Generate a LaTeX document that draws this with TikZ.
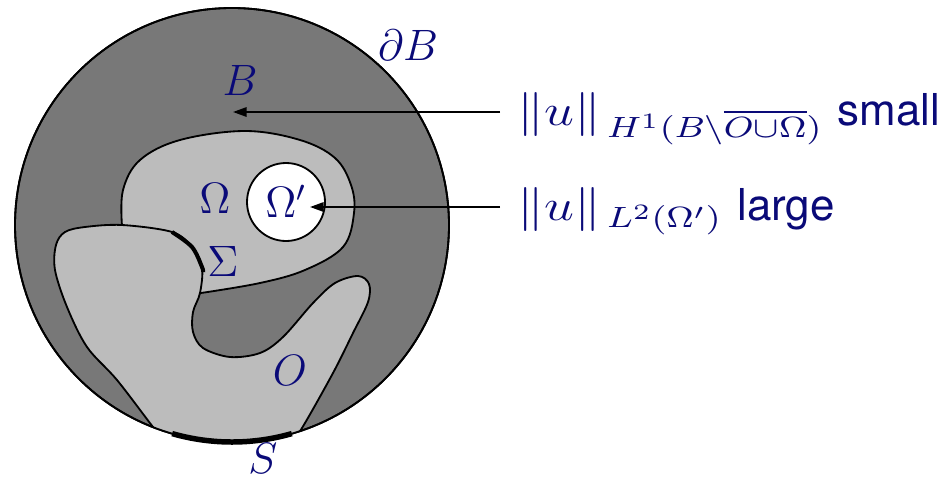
\documentclass[tikz,border=0pt]{standalone}
\usepackage{fontspec}
\setsansfont{TeX Gyre Heros}
\usepackage{tikz}
\usetikzlibrary{arrows.meta, positioning}
\definecolor{inkblue}{RGB}{10,10,120}
\definecolor{ballgray}{RGB}{120,120,120}
\definecolor{setgray}{RGB}{188,188,188}
\newcommand{\widemath}[1]{\scalebox{1.22}[1]{$#1$}}

\begin{document}
\begin{tikzpicture}[x=0.0096cm, y=-0.0096cm, >={Triangle[length=1.3mm, width=0.9mm]},
  region/.style={draw, line width=0.5pt, fill=setgray},
  lbl/.style={text=inkblue, font=\large, inner sep=0pt},
  note/.style={text=inkblue, font=\large, anchor=base west, inner xsep=1.6mm, inner ysep=0pt},
  bnd/.style={line width=1.5pt},
  pointer/.style={->, line width=0.5pt}]
  \useasboundingbox (0,0) rectangle (948,478);
  \coordinate (c) at (232,225);
  % the ball B
  \filldraw[fill=ballgray, line width=0.5pt] (c) circle (217);
  \begin{scope}
    \clip (c) circle (217);
    % Omega
    \filldraw[region] plot[smooth, tension=0.6] coordinates {(122,226) (123,190) (140,160) (180,140) (245,131) (300,140) (335,158) (351,185) (354,213) (343,247) (305,270) (260,283) (201,293)} -- (180,300) -- (110,240) -- cycle;
    % obstacle O
    \filldraw[region] plot[smooth, tension=0.55] coordinates {(168,445) (153,427) (117,380) (87,347) (67,307) (55,270) (56,245) (65,232) (85,227) (122,225) (172,232) (192,247) (202,267) (200,293) (193,312) (193,332) (203,348) (230,357) (260,353) (283,337) (313,303) (335,283) (358,276) (369,284) (368,302) (353,333) (333,373) (302,428) (289,445)} -- cycle;
  \end{scope}
  \draw[line width=0.5pt] (c) circle (217);
  % Omega'
  \filldraw[fill=white, line width=0.5pt] (286,202) circle (39);
  % Sigma and S
  \draw[line width=1.1pt] plot[smooth, tension=0.55] coordinates {(172,232) (192,247) (202,267) (203,272)};
  \draw[bnd] ([shift={(106:217)}]c) arc[start angle=106, end angle=74, radius=217];

  \node[lbl] (lbldB) at (408,45) {$\partial B$};
  \node[lbl] (lblB) at (240,80) {$B$};
  \node[lbl] (lblOm) at (215,198) {$\Omega$};
  \node[lbl] (lblOmp) at (286,201) {$\Omega'$};
  \node[lbl] (lblSig) at (223,261) {$\Sigma$};
  \node[lbl] (lblO) at (290,370) {$O$};
  \node[lbl] (lblS) at (263,458) {$S$};

  \node[note] (normH) at (500,125) {\widemath{\|u\|_{\,H^1(B\setminus\overline{O\cup\Omega})}} \textsf{small}};
  \node[note] (normL) at (500,220) {\widemath{\|u\|_{\,L^2(\Omega')}} \textsf{large}};

  \coordinate (tipB) at (233,112);
  \coordinate (tipOmp) at (310,207);
  \draw[pointer] (normH.west |- tipB) -- (tipB);
  \draw[pointer] (normL.west |- tipOmp) -- (tipOmp);
\end{tikzpicture}
\end{document}
